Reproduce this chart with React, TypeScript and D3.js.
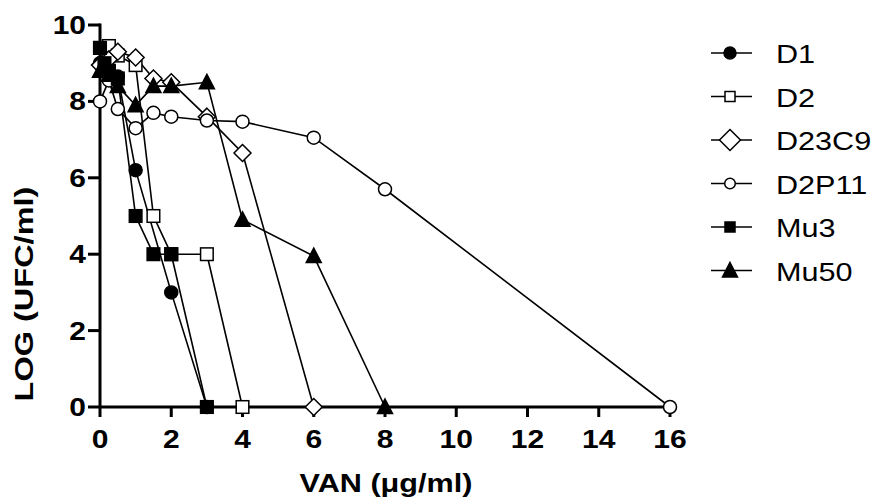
import * as d3 from "d3";

// concentrations (VAN, µg/ml) and log counts per strain
const d1X = [0, 0.125, 0.25, 0.5, 1, 2, 3];
const d1Y = [9.0, 8.9, 8.8, 8.65, 6.2, 3.0, 0];
const d2X = [0, 0.25, 0.5, 1, 1.5, 2, 3, 4];
const d2Y = [9.4, 9.45, 9.2, 8.95, 5.0, 4.0, 4.0, 0];
const d23c9X = [0, 0.25, 0.5, 1, 1.5, 2, 3, 4, 6];
const d23c9Y = [8.95, 9.1, 9.3, 9.15, 8.6, 8.5, 7.6, 6.65, 0];
const d2p11X = [0, 0.25, 0.5, 1, 1.5, 2, 3, 4, 6, 8, 16];
const d2p11Y = [8.0, 8.55, 7.8, 7.3, 7.7, 7.6, 7.5, 7.47, 7.05, 5.7, 0];
const mu3X = [0, 0.125, 0.25, 0.5, 1, 1.5, 2, 3];
const mu3Y = [9.4, 9.0, 8.8, 8.6, 5.0, 4.0, 4.0, 0];
const mu50X = [0, 0.25, 0.5, 1, 1.5, 2, 3, 4, 6, 8];
const mu50Y = [8.8, 8.7, 8.4, 7.9, 8.4, 8.4, 8.5, 4.9, 3.95, 0];

const xTicks = [0, 2, 4, 6, 8, 10, 12, 14, 16];
const yTicks = [0, 2, 4, 6, 8, 10];

const series = [
  { name: "D1", xs: d1X, ys: d1Y, shape: "circle", filled: true },
  { name: "D2", xs: d2X, ys: d2Y, shape: "square", filled: false },
  { name: "D23C9", xs: d23c9X, ys: d23c9Y, shape: "diamond", filled: false },
  { name: "D2P11", xs: d2p11X, ys: d2p11Y, shape: "circle", filled: false },
  { name: "Mu3", xs: mu3X, ys: mu3Y, shape: "square", filled: true },
  { name: "Mu50", xs: mu50X, ys: mu50Y, shape: "triangle", filled: true },
];

const width = 873;
const height = 501;
const font = "'Liberation Sans', Arial, sans-serif";
const stretch = 1.2; // the original lettering is wider than Arial

const x = d3.scaleLinear().domain([0, 16]).range([100, 670]);
const y = d3.scaleLinear().domain([0, 10]).range([407, 25]);

const Marker = ({ shape, filled, cx, cy, legend = false }: any) => {
  const fill = filled ? "#000" : "#fff";
  const common = { fill, stroke: "#000", strokeWidth: 1.5 };
  if (shape === "circle") {
    const r = legend ? (filled ? 6 : 5.3) : 6.5;
    return <circle cx={cx} cy={cy} r={r} {...common} />;
  }
  if (shape === "square") {
    const h = legend ? 5 : 6.3;
    return <rect x={cx - h} y={cy - h} width={2 * h} height={2 * h} {...common} />;
  }
  if (shape === "diamond") {
    const h = legend ? 10.5 : 8.5;
    return <path d={`M${cx},${cy - h}L${cx + h},${cy}L${cx},${cy + h}L${cx - h},${cy}Z`} {...common} />;
  }
  const w = 7.5;
  return <path d={`M${cx},${cy - 8}L${cx + w},${cy + 6.5}L${cx - w},${cy + 6.5}Z`} {...common} />;
};

export default function App() {
  const line = d3.line<[number, number]>().x((d) => x(d[0])).y((d) => y(d[1]));

  return (
    <svg width={width} height={height} style={{ position: "fixed", left: 0, top: 0, background: "#fff" }}>
      {/* series lines */}
      {series.map((s) => (
        <path
          key={s.name + "-line"}
          d={line(s.xs.map((v, i) => [v, s.ys[i]]) as [number, number][]) || ""}
          fill="none"
          stroke="#000"
          strokeWidth={1.6}
        />
      ))}

      {/* axes */}
      <g stroke="#000" strokeWidth={3}>
        <line x1={x(0)} x2={x(0)} y1={y(10) - 1.5} y2={y(0)} />
        <line x1={x(0)} x2={x(16)} y1={y(0)} y2={y(0)} />
        {yTicks.map((t) => (
          <line key={"yt" + t} x1={x(0) - 12} x2={x(0)} y1={y(t)} y2={y(t)} />
        ))}
        {xTicks.map((t) => (
          <line key={"xt" + t} x1={x(t)} x2={x(t)} y1={y(0)} y2={y(0) + 10} />
        ))}
      </g>

      {/* markers */}
      {series.map((s) =>
        s.xs.map((v, i) => (
          <Marker key={s.name + i} shape={s.shape} filled={s.filled} cx={x(v)} cy={y(s.ys[i])} />
        ))
      )}

      {/* tick labels */}
      <g fontFamily={font} fontWeight="bold" fontSize={25} fill="#000">
        {yTicks.map((t) => (
          <text key={"yl" + t} transform={`translate(${x(0) - 14},${y(t) + 9}) scale(${stretch},1)`} textAnchor="end">
            {t}
          </text>
        ))}
        {xTicks.map((t) => (
          <text key={"xl" + t} transform={`translate(${x(t)},${y(0) + 41}) scale(${stretch},1)`} textAnchor="middle">
            {t}
          </text>
        ))}
      </g>

      {/* axis titles */}
      <text
        transform={`translate(386,492) scale(${stretch},1)`}
        textAnchor="middle"
        fontFamily={font}
        fontWeight="bold"
        fontSize={25.5}
      >
        VAN (μg/ml)
      </text>
      <text
        transform={`translate(33,${y(5) + 78}) rotate(-90) scale(1.25,1)`}
        textAnchor="middle"
        fontFamily={font}
        fontWeight="bold"
        fontSize={26}
      >
        LOG (UFC/ml)
      </text>

      {/* legend */}
      {series.map((s, i) => {
        const ly = 53 + i * 43.5;
        return (
          <g key={s.name + "-leg"}>
            <line x1={711} x2={752} y1={ly} y2={ly} stroke="#000" strokeWidth={1.5} />
            <Marker shape={s.shape} filled={s.filled} cx={730} cy={ly} legend />
            <text
              transform={`translate(776,${ly + 10}) scale(${stretch},1)`}
              fontFamily={font}
              fontSize={25.5}
            >
              {s.name}
            </text>
          </g>
        );
      })}
    </svg>
  );
}
